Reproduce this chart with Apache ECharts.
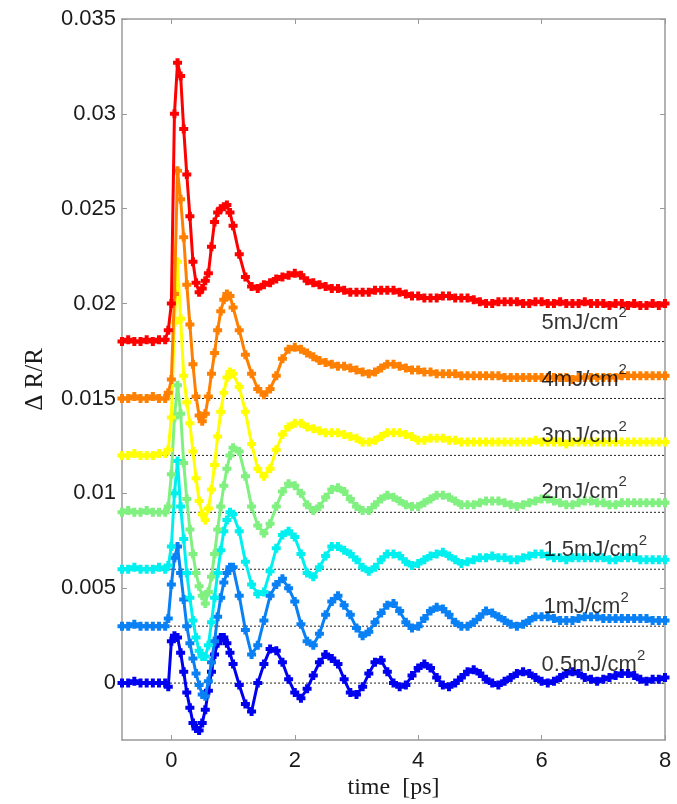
<!DOCTYPE html>
<html>
<head>
<meta charset="utf-8">
<script src="https://cdn.jsdelivr.net/npm/echarts@6/dist/echarts.min.js"></script>
<style>html,body{margin:0;padding:0;background:#fff;}#c{width:677px;height:804px;}</style>
</head>
<body>
<div id="c"></div>
<script>
// time grid [ps]
const time = [-0.8,-0.7,-0.6,-0.5,-0.4,-0.3,-0.2,
  -0.1,-0.05,0,0.05,0.1,0.15,0.2,0.25,0.3,0.35,0.4,0.45,0.5,0.55,0.6,0.65,0.7,0.75,0.8,0.85,0.9,0.95,1.0,
  1.1,1.2,1.3,1.4,1.5,1.6,1.7,1.8,1.9,2.0,
  2.1,2.2,2.3,2.4,2.5,2.6,2.7,2.8,2.9,3.0,
  3.1,3.2,3.3,3.4,3.5,3.6,3.7,3.8,3.9,4.0,
  4.1,4.2,4.3,4.4,4.5,4.6,4.7,4.8,4.9,5.0,
  5.1,5.2,5.3,5.4,5.5,5.6,5.7,5.8,5.9,6.0,
  6.1,6.2,6.3,6.4,6.5,6.6,6.7,6.8,6.9,7.0,
  7.1,7.2,7.3,7.4,7.5,7.6,7.7,7.8,7.9,8.0];

const s5mJ = [0.0180,0.0181,0.0180,0.0180,0.0181,0.0180,0.0181,
  0.0181,0.0186,0.0200,0.0300,0.0327,0.0320,0.0292,0.0268,0.0246,0.0222,0.0211,0.0206,0.0208,0.0212,0.0216,0.0230,0.0243,0.0248,0.0250,0.0251,0.0252,0.0248,0.0241,
  0.0226,0.0214,0.0209,0.0208,0.0210,0.0211,0.0213,0.0214,0.0215,0.0216,
  0.0215,0.0212,0.0211,0.0210,0.0209,0.0208,0.0208,0.0207,0.0206,0.0206,
  0.0206,0.0206,0.0207,0.0207,0.0207,0.0207,0.0206,0.0205,0.0204,0.0204,
  0.0203,0.0203,0.0203,0.0204,0.0204,0.0203,0.0203,0.0203,0.0202,0.0201,
  0.0200,0.0200,0.0201,0.0201,0.0201,0.0201,0.0200,0.0200,0.0201,0.0201,
  0.0200,0.0200,0.0201,0.0200,0.0200,0.0200,0.0201,0.0200,0.0200,0.0200,
  0.0199,0.0200,0.0200,0.0199,0.0200,0.0199,0.0199,0.0200,0.0199,0.0200];

const s4mJ = [0.0150,0.0150,0.0151,0.0150,0.0150,0.0151,0.0150,
  0.0150,0.0153,0.0160,0.0205,0.0270,0.0255,0.0235,0.0210,0.0189,0.0168,0.0151,0.0141,0.0138,0.0142,0.0151,0.0163,0.0174,0.0186,0.0196,0.0202,0.0205,0.0204,0.0198,
  0.0186,0.0173,0.0163,0.0155,0.0152,0.0155,0.0162,0.0171,0.0176,0.0177,
  0.0176,0.0174,0.0172,0.0170,0.0169,0.0168,0.0167,0.0167,0.0166,0.0165,
  0.0164,0.0163,0.0164,0.0166,0.0168,0.0168,0.0167,0.0166,0.0165,0.0165,
  0.0164,0.0164,0.0163,0.0163,0.0163,0.0163,0.0162,0.0162,0.0162,0.0162,
  0.0162,0.0162,0.0162,0.0161,0.0161,0.0161,0.0161,0.0161,0.0161,0.0161,
  0.0161,0.0161,0.0161,0.0161,0.0160,0.0161,0.0161,0.0161,0.0161,0.0161,
  0.0161,0.0161,0.0162,0.0162,0.0162,0.0162,0.0162,0.0162,0.0162,0.0162];

const s3mJ = [0.0120,0.0120,0.0121,0.0120,0.0120,0.0120,0.0121,
  0.0121,0.0123,0.0140,0.0190,0.0222,0.0192,0.0162,0.0148,0.0137,0.0122,0.0108,0.0096,0.0089,0.0086,0.0092,0.0102,0.0115,0.0130,0.0143,0.0153,0.0161,0.0164,0.0163,
  0.0156,0.0143,0.0126,0.0113,0.0109,0.0113,0.0123,0.0131,0.0135,0.0137,
  0.0137,0.0135,0.0134,0.0133,0.0132,0.0132,0.0132,0.0131,0.0130,0.0129,
  0.0127,0.0127,0.0128,0.0130,0.0132,0.0132,0.0132,0.0131,0.0130,0.0128,
  0.0128,0.0129,0.0129,0.0129,0.0128,0.0128,0.0127,0.0127,0.0127,0.0127,
  0.0127,0.0127,0.0127,0.0127,0.0127,0.0127,0.0127,0.0127,0.0128,0.0127,
  0.0127,0.0127,0.0127,0.0126,0.0127,0.0127,0.0127,0.0127,0.0127,0.0127,
  0.0127,0.0127,0.0127,0.0127,0.0127,0.0127,0.0127,0.0127,0.0127,0.0127];

const s2mJ = [0.0090,0.0091,0.0090,0.0090,0.0091,0.0090,0.0090,
  0.0090,0.0093,0.0110,0.0140,0.0157,0.0142,0.0116,0.0097,0.0081,0.0068,0.0058,0.0051,0.0046,0.0042,0.0048,0.0056,0.0068,0.0081,0.0093,0.0104,0.0113,0.0120,0.0124,
  0.0122,0.0109,0.0093,0.0083,0.0079,0.0084,0.0093,0.0101,0.0105,0.0104,
  0.0100,0.0094,0.0091,0.0093,0.0098,0.0102,0.0103,0.0101,0.0097,0.0093,
  0.0091,0.0091,0.0094,0.0097,0.0099,0.0098,0.0096,0.0094,0.0093,0.0093,
  0.0095,0.0097,0.0099,0.0099,0.0098,0.0096,0.0094,0.0094,0.0094,0.0095,
  0.0096,0.0096,0.0096,0.0095,0.0094,0.0093,0.0094,0.0095,0.0096,0.0097,
  0.0097,0.0096,0.0095,0.0094,0.0094,0.0095,0.0096,0.0096,0.0095,0.0095,
  0.0094,0.0094,0.0095,0.0095,0.0095,0.0095,0.0095,0.0095,0.0095,0.0095];

const s1p5mJ = [0.0060,0.0060,0.0061,0.0060,0.0060,0.0060,0.0061,
  0.0060,0.0062,0.0072,0.0100,0.0117,0.0093,0.0076,0.0058,0.0045,0.0033,0.0024,0.0017,0.0014,0.0014,0.0020,0.0032,0.0045,0.0058,0.0070,0.0080,0.0086,0.0090,0.0089,
  0.0080,0.0064,0.0052,0.0047,0.0048,0.0059,0.0071,0.0078,0.0080,0.0077,
  0.0068,0.0058,0.0056,0.0061,0.0067,0.0072,0.0072,0.0070,0.0068,0.0065,
  0.0061,0.0059,0.0061,0.0065,0.0068,0.0068,0.0067,0.0064,0.0062,0.0063,
  0.0065,0.0067,0.0068,0.0069,0.0067,0.0065,0.0063,0.0064,0.0065,0.0066,
  0.0066,0.0067,0.0066,0.0066,0.0065,0.0065,0.0066,0.0067,0.0068,0.0068,
  0.0067,0.0066,0.0066,0.0065,0.0066,0.0066,0.0066,0.0066,0.0066,0.0066,
  0.0065,0.0065,0.0066,0.0066,0.0066,0.0065,0.0065,0.0065,0.0065,0.0065];

const s1mJ = [0.0030,0.0030,0.0031,0.0030,0.0030,0.0030,0.0030,
  0.0030,0.0034,0.0052,0.0066,0.0072,0.0058,0.0044,0.0030,0.0021,0.0013,0.0005,-0.0001,-0.0006,-0.0007,0.0001,0.0011,0.0022,0.0035,0.0045,0.0053,0.0058,0.0061,0.0061,
  0.0046,0.0028,0.0015,0.0020,0.0033,0.0046,0.0052,0.0055,0.0050,0.0043,
  0.0031,0.0022,0.0020,0.0026,0.0036,0.0043,0.0046,0.0041,0.0036,0.0029,
  0.0025,0.0027,0.0032,0.0037,0.0041,0.0042,0.0038,0.0032,0.0029,0.0030,
  0.0034,0.0038,0.0040,0.0039,0.0036,0.0032,0.0030,0.0030,0.0032,0.0035,
  0.0038,0.0037,0.0035,0.0033,0.0031,0.0030,0.0031,0.0033,0.0035,0.0035,
  0.0035,0.0034,0.0033,0.0033,0.0033,0.0034,0.0035,0.0035,0.0035,0.0034,
  0.0034,0.0034,0.0034,0.0034,0.0034,0.0034,0.0034,0.0033,0.0033,0.0033];

const s0p5mJ = [0.0000,0.0000,0.0001,0.0000,0.0000,0.0000,0.0000,
  0.0000,-0.0002,0.0022,0.0025,0.0024,0.0016,0.0006,-0.0005,-0.0013,-0.0021,-0.0024,-0.0025,-0.0021,-0.0014,-0.0004,0.0006,0.0015,0.0021,0.0024,0.0024,0.0021,0.0016,0.0010,
  -0.0001,-0.0011,-0.0015,0.0000,0.0010,0.0018,0.0017,0.0011,0.0002,-0.0005,
  -0.0008,-0.0003,0.0004,0.0011,0.0015,0.0013,0.0010,0.0002,-0.0005,-0.0006,
  -0.0002,0.0005,0.0011,0.0012,0.0006,0.0000,-0.0002,-0.0001,0.0004,0.0008,
  0.0010,0.0008,0.0003,-0.0001,-0.0002,0.0000,0.0003,0.0006,0.0007,0.0005,
  0.0002,0.0000,-0.0001,0.0001,0.0003,0.0005,0.0006,0.0005,0.0003,0.0001,
  0.0000,0.0001,0.0003,0.0005,0.0006,0.0005,0.0003,0.0002,0.0001,0.0002,
  0.0003,0.0004,0.0005,0.0005,0.0004,0.0002,0.0001,0.0002,0.0002,0.0003];

// drawing order: low fluence first, red on top
const seriesNames  = ['0.5mJ/cm2','1mJ/cm2','1.5mJ/cm2','2mJ/cm2','3mJ/cm2','4mJ/cm2','5mJ/cm2'];
const seriesValues = [s0p5mJ, s1mJ, s1p5mJ, s2mJ, s3mJ, s4mJ, s5mJ];
const seriesColors = ['#0000f0','#0a80f5','#00f0f0','#80f080','#ffff00','#ff8000','#ff0000'];

// dotted baselines (vertical offsets)
const baselines = [0, 0.003, 0.006, 0.009, 0.012, 0.015, 0.018];
const xRange = [-0.8, 8];

// in-plot text labels
const labelText = ['5mJ/cm','4mJ/cm','3mJ/cm','2mJ/cm','1.5mJ/cm','1mJ/cm','0.5mJ/cm'];
const labelX    = [6.0, 6.0, 6.0, 6.0, 6.03, 6.03, 6.0];
const labelY    = [0.0190, 0.0160, 0.0130, 0.0101, 0.0070, 0.0040, 0.00095];

// axis ticks
const xTicks = [0, 2, 4, 6, 8];
const yTicks = [0, 0.005, 0.01, 0.015, 0.02, 0.025, 0.03, 0.035];

const chart = echarts.init(document.getElementById('c'), null, {renderer: 'canvas'});
const plus = 'path://M2.5,0H6.5V2.5H9V6.5H6.5V9H2.5V6.5H0V2.5H2.5Z';
const axisGrey = '#9a9a9a';
const tickFont = {fontFamily: 'Liberation Sans', fontSize: 22, color: '#1a1a1a'};

const series = [];
baselines.forEach(b => {
  series.push({
    type: 'line',
    xAxisIndex: 0, yAxisIndex: 0,
    data: xRange.map(x => [x, b]),
    symbol: 'none',
    silent: true,
    lineStyle: {color: '#222', width: 1, type: [2, 2]},
    z: 1,
    animation: false
  });
});
seriesValues.forEach((vals, k) => {
  series.push({
    name: seriesNames[k],
    type: 'line',
    xAxisIndex: 0, yAxisIndex: 0,
    data: time.map((t, i) => [t, vals[i]]),
    symbol: plus,
    symbolSize: 9,
    showSymbol: true,
    showAllSymbol: true,
    lineStyle: {color: seriesColors[k], width: 3},
    itemStyle: {color: seriesColors[k]},
    z: 2 + k * 0.01,
    animation: false
  });
});

series.push({
  type: 'scatter',
  xAxisIndex: 0, yAxisIndex: 0,
  symbolSize: 0,
  z: 10,
  silent: true,
  animation: false,
  data: labelX.map((x, i) => ({value: [x, labelY[i]], name: labelText[i]})),
  label: {
    show: true,
    position: 'right',
    distance: 0,
    fontFamily: 'Liberation Sans',
    fontSize: 22,
    color: '#000',
    lineHeight: 34,
    formatter: p => p.name + '{s|2}',
    rich: {s: {fontFamily: 'Liberation Sans', fontSize: 15, lineHeight: 15, verticalAlign: 'top', color: '#000'}}
  }
});

const axisLineStyle = {show: true, onZero: false, lineStyle: {color: axisGrey, width: 1.5}};
const tickStyle = ticks => ({show: true, inside: true, length: 5, customValues: ticks, lineStyle: {color: axisGrey}});

chart.setOption({
  backgroundColor: '#fff',
  animation: false,
  grid: {left: 122, right: 12, top: 19, bottom: 64, containLabel: false, outerBoundsMode: 'none'},
  xAxis: [{
    type: 'value', min: xRange[0], max: xRange[1], position: 'bottom',
    axisLine: axisLineStyle,
    axisTick: tickStyle(xTicks),
    axisLabel: Object.assign({customValues: xTicks, margin: 10}, tickFont),
    splitLine: {show: false},
    name: 'time  [ps]', nameLocation: 'middle', nameGap: 36, nameMoveOverlap: false,
    nameTextStyle: {fontFamily: 'Liberation Serif', fontSize: 24, color: '#1a1a1a'}
  }, {
    type: 'value', min: xRange[0], max: xRange[1], position: 'top',
    axisLine: axisLineStyle,
    axisTick: tickStyle(xTicks),
    axisLabel: {show: false},
    splitLine: {show: false}
  }],
  yAxis: [{
    type: 'value', min: -0.003, max: 0.035, position: 'left',
    axisLine: axisLineStyle,
    axisTick: tickStyle(yTicks),
    axisLabel: Object.assign({customValues: yTicks, margin: 6}, tickFont),
    splitLine: {show: false},
    name: 'Δ R/R', nameLocation: 'middle', nameGap: 74, nameRotate: 90, nameMoveOverlap: false,
    nameTextStyle: {fontFamily: 'Liberation Serif', fontSize: 25, color: '#1a1a1a'}
  }, {
    type: 'value', min: -0.003, max: 0.035, position: 'right',
    axisLine: axisLineStyle,
    axisTick: tickStyle(yTicks),
    axisLabel: {show: false},
    splitLine: {show: false}
  }],
  series: series
});
</script>
</body>
</html>
